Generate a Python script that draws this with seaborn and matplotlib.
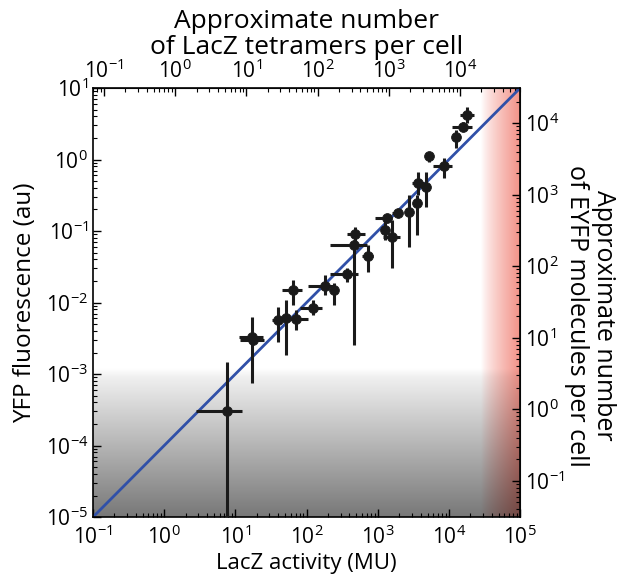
import numpy as np
import pandas as pd
import matplotlib
matplotlib.use('Agg')
import matplotlib.pyplot as plt
import seaborn as sns

# Dados (atividade LacZ em MU, fluorescência YFP em au)
lacz = [1.79e4, 1.57e4, 1.25e4, 5.24e3, 8.5e3, 3.67e3, 4.75e3, 3.56e3, 2.74e3,
        1.92e3, 1.35e3, 1.26e3, 1.58e3, 479, 463, 728, 369, 181, 243, 64.4,
        123, 39.6, 51.4, 71.0, 17.1, 17.8, 7.62]
lacz_lo = [1.42e4, 1.10e4, 1.12e4, 5.24e3, 5.96e3, 3.05e3, 4.2e3, 3.2e3, 2.5e3,
           1.6e3, 9.1e2, 1.15e3, 1.17e3, 372, 214, 603, 214, 105, 220, 45.1,
           80.7, 32.7, 47, 58.5, 11.2, 11.5, 2.8]
lacz_hi = [2.25e4, 2.09e4, 1.40e4, 5.24e3, 1.10e4, 4.4e3, 5.3e3, 3.9e3, 3.0e3,
           2.2e3, 1.58e3, 1.4e3, 2.04e3, 661, 708, 851, 525, 251, 270, 86.1,
           164, 49.8, 56, 105, 24.4, 25, 12.4]
yfp = [4.19, 2.85, 2.07, 1.12, 0.81, 0.469, 0.412, 0.247, 0.185,
       0.179, 0.152, 0.103, 0.0824, 0.0908, 0.0637, 0.0447, 0.0251, 0.0170, 0.0150, 0.0150,
       0.00838, 0.00569, 0.00607, 0.00587, 0.00329, 0.00300, 0.000304]
yfp_lo = [3.24, 2.5, 1.45, 0.92, 0.55, 0.318, 0.217, 0.088, 0.060,
          0.16, 0.14, 0.0748, 0.0304, 0.0678, 0.00255, 0.0267, 0.0194, 0.0127, 0.00923, 0.00923,
          0.00668, 0.00281, 0.00185, 0.00412, 0.000748, 0.0028, 1e-6]
yfp_hi = [5.42, 3.3, 2.57, 1.27, 1.05, 0.668, 0.668, 0.318, 0.318,
          0.2, 0.165, 0.143, 0.143, 0.114, 0.075, 0.0637, 0.0304, 0.0243, 0.0188, 0.0207,
          0.0108, 0.00865, 0.0108, 0.00785, 0.00626, 0.0032, 0.00147]

fit_x = [1e-1, 1e5]
fit_slope = 1e-4          # YFP = 1e-4 * LacZ
top_factor = 0.7          # tetrâmeros por MU
right_factor = 3100       # moléculas EYFP por au

df = pd.DataFrame({'lacz': lacz, 'yfp': yfp})
xerr = [np.array(lacz) - np.array(lacz_lo), np.array(lacz_hi) - np.array(lacz)]
yerr = [np.array(yfp) - np.array(yfp_lo), np.array(yfp_hi) - np.array(yfp)]

sns.set_style('ticks')
plt.rcParams['font.family'] = ['Open Sans', 'DejaVu Sans']
plt.rcParams['mathtext.default'] = 'regular'
for key in ['text.color', 'axes.labelcolor', 'xtick.color', 'ytick.color']:
    plt.rcParams[key] = 'black'

fig = plt.figure(figsize=(6.2, 5.79), dpi=100)
ax = fig.add_axes([0.15, 0.107, 0.689, 0.741])

# Fundo: degradê cinza (limite de detecção) e vermelho (saturação)
ly = np.linspace(1, -5, 400)[:, None]
lx = np.linspace(-1, 5, 400)[None, :]
g = np.where(ly > -3.05, 1 - 0.06 * np.clip((-2.93 - ly) / 0.12, 0, 1),
             0.94 - 0.47 * (-3.05 - ly) / 1.95)
t = np.clip((lx - 4.45) / 0.55, 0, 1) ** 0.8
red = np.array([0.95, 0.57, 0.53])
img = np.empty((400, 400, 3))
for k in range(3):
    img[:, :, k] = g * (1 - t + t * red[k])
ax.imshow(img, extent=[0, 1, 0, 1], transform=ax.transAxes, aspect='auto',
          zorder=0, interpolation='bilinear')

ax.set_xscale('log')
ax.set_yscale('log')

ax.plot(fit_x, [v * fit_slope for v in fit_x], color='#3050a8', lw=2, zorder=2)
ax.errorbar(df['lacz'], df['yfp'], xerr=xerr, yerr=yerr, fmt='none',
            ecolor='#1a1a1a', elinewidth=2.2, capsize=0, zorder=3)
sns.scatterplot(data=df, x='lacz', y='yfp', ax=ax, color='#1a1a1a', s=50,
                edgecolor='#1a1a1a', zorder=4, legend=False)

ax.set_xlim(1e-1, 1e5)
ax.set_ylim(1e-5, 1e1)
ax.set_xlabel('LacZ activity (MU)', fontsize=16, labelpad=3)
ax.set_ylabel('YFP fluorescence (au)', fontsize=17.5, labelpad=6)
ax.tick_params(which='both', direction='in', labelsize=15, top=False, right=False)
ax.tick_params(axis='x', pad=6)
ax.tick_params(which='major', length=6, width=1)
ax.tick_params(which='minor', length=3, width=0.8)
ax.set_xticks([10.0 ** k for k in range(-1, 6)])
ax.set_yticks([10.0 ** k for k in range(-5, 2)])

secx = ax.secondary_xaxis('top', functions=(lambda v: v * top_factor, lambda v: v / top_factor))
secx.set_xticks([10.0 ** k for k in range(-1, 5)])
secx.tick_params(which='both', direction='in', labelsize=15)
secx.tick_params(which='major', length=6, width=1)
secx.tick_params(which='minor', length=3, width=0.8)
secx.set_xlabel('Approximate number\nof LacZ tetramers per cell', fontsize=19,
                labelpad=4, linespacing=1.05)

secy = ax.secondary_yaxis('right', functions=(lambda v: v * right_factor, lambda v: v / right_factor))
secy.set_yticks([10.0 ** k for k in range(-1, 5)])
secy.tick_params(which='both', direction='in', labelsize=15)
secy.tick_params(which='major', length=6, width=1)
secy.tick_params(which='minor', length=3, width=0.8)

# rótulo do eixo direito como texto da figura (duas linhas, girado)
fig.text(0.952, 0.455, 'Approximate number\nof EYFP molecules per cell', fontsize=18,
         rotation=-90, ha='center', va='center', multialignment='center',
         linespacing=1.1, rotation_mode='anchor')

for s in ax.spines.values():
    s.set_linewidth(1.2)
    s.set_color('black')

fig.savefig('out.png', dpi=100)
